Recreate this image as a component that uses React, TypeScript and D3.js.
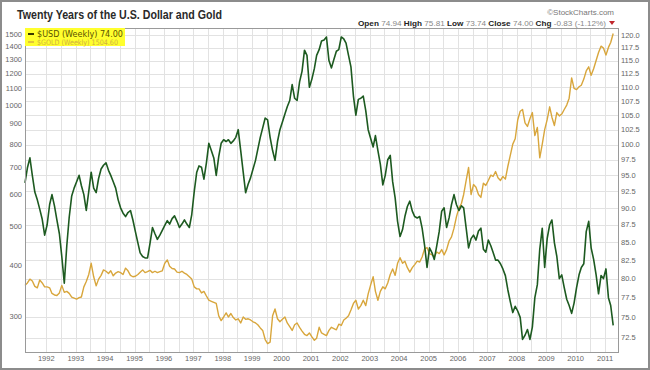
import * as d3 from "d3";

const chartTitle = "Twenty Years of the U.S. Dollar and Gold";
const yearLabels = [1992, 1993, 1994, 1995, 1996, 1997, 1998, 1999, 2000, 2001,
  2002, 2003, 2004, 2005, 2006, 2007, 2008, 2009, 2010, 2011];
const goldTicks = [300, 400, 500, 600, 700, 800, 900, 1000, 1100, 1200, 1300, 1400, 1500];
const usdTicks = [72.5, 75, 77.5, 80, 82.5, 85, 87.5, 90, 92.5, 95, 97.5, 100,
  102.5, 105, 107.5, 110, 112.5, 115, 117.5, 120];

// month-by-month readings, first value = April 1991, last = April 2011
const usdIndex = [
  93.8, 96.2, 97.8, 95.0, 92.4, 91.2, 89.8, 88.3, 86.0, // 1991
  87.5, 90.5, 92.0, 90.3, 88.2, 86.2, 83.0, 79.4, 84.5, 88.6, 91.8, 93.0, // 1992
  94.0, 95.0, 93.4, 92.0, 89.6, 92.5, 95.5, 93.0, 92.3, 94.5, 96.0, 96.6, // 1993
  97.0, 95.8, 95.0, 94.0, 93.0, 91.2, 90.0, 89.2, 88.7, 89.3, 89.6, 88.2, // 1994
  86.5, 84.9, 83.5, 83.0, 82.8, 82.8, 84.8, 87.1, 86.2, 85.4, 86.0, 86.7, // 1995
  87.4, 88.1, 87.6, 88.4, 88.8, 88.0, 87.1, 87.6, 88.2, 87.6, 87.1, 89.0, // 1996
  92.5, 95.5, 96.5, 96.3, 94.4, 97.0, 100.2, 99.0, 97.8, 95.0, 98.0, 100.2, // 1997
  100.8, 100.5, 100.8, 100.2, 100.6, 101.2, 102.5, 99.0, 95.5, 92.3, 93.6, 94.6, // 1998
  96.0, 97.4, 99.2, 101.2, 102.8, 104.5, 104.2, 101.2, 99.0, 97.4, 100.5, 102.5, // 1999
  103.8, 105.2, 106.5, 107.6, 110.5, 108.0, 107.6, 111.0, 113.0, 117.0, 116.0, 110.0, // 2000
  111.5, 113.5, 116.0, 117.1, 118.8, 119.0, 119.6, 115.0, 113.6, 115.2, 116.8, 117.1, // 2001
  119.6, 119.2, 118.4, 116.0, 113.8, 108.4, 105.0, 107.8, 108.0, 108.4, 105.8, 102.5, // 2002
  101.0, 99.6, 101.5, 99.0, 96.8, 93.5, 95.0, 97.5, 98.2, 94.0, 91.5, 88.0, // 2003
  85.8, 86.8, 88.7, 90.2, 91.0, 89.5, 88.7, 88.5, 88.7, 87.0, 84.5, 81.5, // 2004
  84.2, 83.5, 82.6, 84.5, 86.5, 89.5, 90.0, 87.1, 88.5, 90.5, 92.0, 90.5, // 2005
  89.6, 90.3, 90.0, 87.0, 84.2, 85.5, 86.0, 85.3, 86.6, 87.0, 84.0, 83.6, // 2006
  85.3, 84.5, 83.6, 82.5, 82.5, 82.0, 81.3, 80.4, 78.5, 77.0, 75.6, 76.4, // 2007
  75.8, 75.0, 72.3, 72.8, 73.5, 72.3, 73.8, 77.5, 79.2, 84.0, 87.0, 81.5, // 2008
  85.5, 87.5, 88.2, 84.9, 83.0, 80.0, 80.5, 78.8, 77.3, 76.5, 75.5, 76.8, // 2009
  78.8, 80.5, 81.5, 82.0, 86.5, 88.0, 84.2, 82.6, 80.5, 78.0, 80.4, 80.0, // 2010
  81.3, 77.5, 76.5, 74.0, // 2011
];

const goldPrice = [
  357, 362, 370, 366, 355, 352, 368, 362, 354, // 1991
  354, 352, 341, 338, 337, 342, 357, 343, 345, 341, 334, 332, // 1992
  330, 333, 334, 354, 365, 380, 405, 375, 356, 370, 378, 390, // 1993
  387, 382, 388, 377, 383, 386, 384, 380, 394, 388, 378, 375, // 1994
  376, 380, 385, 390, 384, 386, 389, 384, 387, 384, 386, 388, // 1995
  405, 413, 398, 393, 392, 385, 384, 387, 383, 380, 375, 370, // 1996
  354, 350, 350, 342, 345, 336, 328, 326, 324, 322, 300, 292, // 1997
  298, 305, 298, 304, 297, 293, 295, 288, 298, 294, 295, 293, // 1998
  290, 288, 285, 280, 276, 262, 256, 258, 300, 312, 295, 290, // 1999
  294, 298, 288, 282, 276, 285, 288, 281, 275, 270, 268, 272, // 2000
  266, 261, 264, 281, 272, 270, 268, 276, 281, 279, 277, 286, // 2001
  284, 293, 296, 300, 310, 322, 328, 312, 318, 328, 318, 340, // 2002
  358, 375, 345, 328, 345, 354, 350, 362, 380, 392, 378, 405, // 2003
  418, 405, 410, 395, 385, 395, 402, 410, 408, 420, 440, 443, // 2004
  428, 425, 420, 432, 428, 438, 425, 438, 460, 471, 495, 528, // 2005
  555, 570, 600, 650, 700, 600, 635, 625, 600, 590, 640, 632, // 2006
  650, 670, 665, 684, 660, 650, 665, 655, 705, 750, 800, 825, // 2007
  918, 965, 975, 903, 885, 925, 958, 840, 880, 740, 800, 869, // 2008
  920, 990, 933, 890, 958, 940, 950, 975, 1000, 1040, 1168, 1100, // 2009
  1092, 1110, 1120, 1160, 1215, 1244, 1185, 1230, 1290, 1350, 1400, 1385, // 2010
  1330, 1390, 1430, 1504.6, // 2011
];

const W = 650;
const H = 370;
const left = 25, right = 618, top = 28, bottom = 352;
const axisFont = "Liberation Sans, Arial, sans-serif";

export default function App() {
  const dates = usdIndex.map((_, i) => new Date(1991, 3 + i, 12));

  const x = d3.scaleTime()
    .domain([new Date(1991, 3, 12), new Date(2011, 3, 22)])
    .range([left, 614]);
  const yGold = d3.scaleLog().domain([244, 1553]).range([bottom, top]);
  const yUsd = d3.scaleLog().domain([70.8, 121.4]).range([bottom, top]);

  const usdLine = d3.line<number>()
    .x((_, i) => x(dates[i]))
    .y(d => yUsd(d));
  const goldLine = d3.line<number>()
    .x((_, i) => x(dates[i]))
    .y(d => yGold(d));

  const halfYears = d3.timeMonths(new Date(1992, 0, 1), new Date(2011, 3, 1), 6);

  return (
    <svg width={W} height={H} style={{ position: "absolute", left: 0, top: 0, background: "#fff" }}>
      <rect x={0} y={0} width={W} height={H} fill="#fff" />

      {/* grid */}
      <g stroke="#e2e2e2" strokeWidth={1}>
        {usdTicks.map(t => (
          <line key={"h" + t} x1={left} x2={right} y1={Math.round(yUsd(t)) + 0.5} y2={Math.round(yUsd(t)) + 0.5} />
        ))}
        {halfYears.map(d => (
          <line key={"v" + d.getTime()} x1={Math.round(x(d)) + 0.5} x2={Math.round(x(d)) + 0.5} y1={top} y2={bottom} />
        ))}
      </g>

      {/* series */}
      <path d={goldLine(goldPrice) ?? ""} fill="none" stroke="#d8a63c" strokeWidth={1.4} strokeLinejoin="round" />
      <path d={usdLine(usdIndex) ?? ""} fill="none" stroke="#1d5a20" strokeWidth={1.6} strokeLinejoin="round" />

      {/* plot frame */}
      <rect x={left + 0.5} y={top + 0.5} width={right - left} height={bottom - top} fill="none" stroke="#9a9a9a" strokeWidth={1} />

      {/* left axis: gold */}
      <g fontFamily={axisFont} fontSize={7.5} fill="#666" textAnchor="end">
        {goldTicks.map(t => (
          <text key={t} x={22} y={yGold(t) + 2.7}>{t}</text>
        ))}
      </g>

      {/* right axis: dollar index */}
      <g fontFamily={axisFont} fontSize={7.5} fill="#666" textAnchor="start">
        {usdTicks.map(t => (
          <text key={t} x={621} y={yUsd(t) + 2.7}>{t.toFixed(1)}</text>
        ))}
      </g>

      {/* years */}
      <g fontFamily={axisFont} fontSize={7.5} fill="#666" textAnchor="middle">
        {yearLabels.map(yr => (
          <text key={yr} x={x(new Date(yr, 0, 1))} y={361}>{yr}</text>
        ))}
      </g>

      {/* legend */}
      <rect x={25} y={28} width={100} height={18} fill="#ffff2e" />
      <line x1={28} x2={34} y1={34} y2={34} stroke="#3a3a00" strokeWidth={2} />
      <text x={37} y={37} fontFamily="DejaVu Sans, sans-serif" fontSize={8} fill="#5a5200" textLength={86} lengthAdjust="spacingAndGlyphs">$USD (Weekly) 74.00</text>
      <line x1={28} x2={34} y1={42} y2={42} stroke="#d8b040" strokeWidth={1.5} />
      <text x={37} y={45} fontFamily="DejaVu Sans, sans-serif" fontSize={7.5} fill="#d0b040" textLength={81} lengthAdjust="spacingAndGlyphs">$GOLD (Weekly) 1504.60</text>

      {/* header */}
      <text x={17} y={19} fontFamily="Liberation Sans, Arial, sans-serif" fontWeight="bold" fontSize={12} fill="#2a2a2a" textLength={205} lengthAdjust="spacingAndGlyphs">{chartTitle}</text>
      <text x={614} y={15} textAnchor="end" fontFamily={axisFont} fontSize={8} fill="#777">©StockCharts.com</text>
      <text x={358} y={26} fontFamily={axisFont} fontSize={8} fill="#888" textLength={248} lengthAdjust="spacingAndGlyphs">
        <tspan fill="#222" fontWeight="bold">Open</tspan> 74.94 <tspan fill="#222" fontWeight="bold">High</tspan> 75.81 <tspan fill="#222" fontWeight="bold">Low</tspan> 73.74 <tspan fill="#222" fontWeight="bold">Close</tspan> 74.00 <tspan fill="#222" fontWeight="bold">Chg</tspan> -0.83 (-1.12%)
      </text>
      <path d="M609,21 L615,21 L612,25 Z" fill="#c0262c" />

      {/* outer frame */}
      <rect x={1} y={1} width={W - 2} height={H - 2} fill="none" stroke="#8c8c8c" strokeWidth={2} />
    </svg>
  );
}
